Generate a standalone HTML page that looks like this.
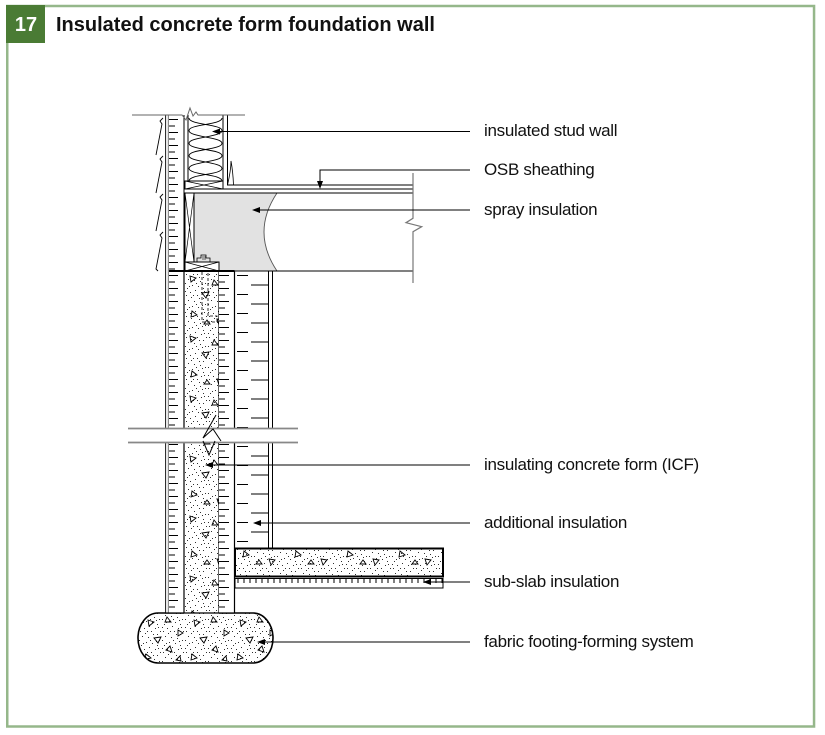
<!DOCTYPE html>
<html><head><meta charset="utf-8">
<style>
html,body{margin:0;padding:0;background:#fff;}
body{width:825px;height:735px;overflow:hidden;position:relative;}
svg{position:absolute;left:0;top:0;}
.lbl{font-family:"Liberation Sans",sans-serif;font-size:17px;letter-spacing:-0.3px;fill:#111;}
</style></head><body>
<svg width="825" height="735" viewBox="0 0 825 735" xmlns="http://www.w3.org/2000/svg">
<defs>
 <pattern id="dots" patternUnits="userSpaceOnUse" width="23" height="21">
  <g fill="#000">
  <rect x="2" y="1" width="0.9" height="0.9"/>
  <rect x="7" y="3" width="0.9" height="0.9"/>
  <rect x="13" y="1" width="0.9" height="0.9"/>
  <rect x="19" y="4" width="0.9" height="0.9"/>
  <rect x="4" y="6" width="0.9" height="0.9"/>
  <rect x="10" y="7" width="0.9" height="0.9"/>
  <rect x="16" y="8" width="0.9" height="0.9"/>
  <rect x="21" y="10" width="0.9" height="0.9"/>
  <rect x="1" y="10" width="0.9" height="0.9"/>
  <rect x="8" y="12" width="0.9" height="0.9"/>
  <rect x="14" y="13" width="0.9" height="0.9"/>
  <rect x="19" y="15" width="0.9" height="0.9"/>
  <rect x="3" y="15" width="0.9" height="0.9"/>
  <rect x="11" y="17" width="0.9" height="0.9"/>
  <rect x="17" y="19" width="0.9" height="0.9"/>
  <rect x="6" y="19" width="0.9" height="0.9"/>
  <rect x="22" y="1" width="0.9" height="0.9"/>
  <rect x="12" y="10" width="0.9" height="0.9"/>
  <rect x="5" y="13" width="0.9" height="0.9"/>
  <rect x="20" y="18" width="0.9" height="0.9"/>
  <rect x="9" y="1" width="0.9" height="0.9"/>
  <rect x="15" y="4" width="0.9" height="0.9"/>
  <rect x="1" y="18" width="0.9" height="0.9"/>
  <rect x="18" y="11" width="0.9" height="0.9"/>
  </g>
 </pattern>
 <pattern id="tri" patternUnits="userSpaceOnUse" x="184" y="271" width="52" height="60">
  <path d="M6,5 l6,2 l-5,4 z M30,9 l4,5 l-6,0 z M18,22 l7,-1 l-3,6 z M42,28 l2,6 l-6,-2 z M8,40 l5,4 l-6,2 z M33,48 l6,1 l-4,5 z M20,53 l3,-4 l3,4 z" fill="none" stroke="#000" stroke-width="0.9"/>
 </pattern>
 <pattern id="tri2" patternUnits="userSpaceOnUse" x="140" y="612" width="46" height="52">
  <path d="M8,8 l6,2 l-5,4 z M27,5 l4,5 l-6,0 z M38,18 l5,3 l-5,3 z M14,26 l7,-1 l-3,6 z M30,34 l2,6 l-6,-2 z M6,42 l5,4 l-6,2 z M40,44 l-4,4 l5,1 z" fill="none" stroke="#000" stroke-width="0.9"/>
 </pattern>
 <pattern id="tl" patternUnits="userSpaceOnUse" x="169" y="116" width="15" height="13">
  <path d="M0,3.5H9M0,10H6" stroke="#000" stroke-width="1" fill="none"/>
 </pattern>
 <pattern id="tr" patternUnits="userSpaceOnUse" x="219" y="272" width="15" height="13">
  <path d="M0,3.5H10M0,10H6" stroke="#000" stroke-width="1" fill="none"/>
 </pattern>
 <pattern id="ai" patternUnits="userSpaceOnUse" x="235" y="271" width="34" height="19">
  <path d="M2,4.5H13M16,14H33" stroke="#000" stroke-width="1" fill="none"/>
 </pattern>
 <pattern id="ss" patternUnits="userSpaceOnUse" x="235" y="578" width="6" height="10">
  <path d="M3,0V5" stroke="#000" stroke-width="1" fill="none"/>
 </pattern>
</defs>

<!-- frame -->
<rect x="7.25" y="6" width="806.8" height="720.5" fill="none" stroke="#95b78a" stroke-width="2.5"/>
<rect x="6" y="5" width="39" height="38" fill="#4a7b34"/>
<text x="26" y="31" text-anchor="middle" font-family="Liberation Sans,sans-serif" font-weight="bold" font-size="20" fill="#fff">17</text>
<text x="56" y="31" font-family="Liberation Sans,sans-serif" font-weight="bold" font-size="20" fill="#111">Insulated concrete form foundation wall</text>

<!-- spray insulation -->
<path d="M194,193 H277 Q251,232 277,271 H194 Z" fill="#e2e2e2"/>
<path d="M277,193 Q251,232 277,271" fill="none" stroke="#555" stroke-width="0.9"/>

<!-- concrete column + footing fill -->
<path d="M184,271 H219 V613 H253 A20,25 0 0 1 253,663 H158 A20,25 0 0 1 158,613 H184 Z" fill="#fff"/>
<path d="M184,271 H219 V613 H253 A20,25 0 0 1 253,663 H158 A20,25 0 0 1 158,613 H184 Z" fill="url(#dots)"/>
<rect x="184" y="271" width="35" height="342" fill="url(#tri)"/>
<path d="M219,613 H253 A20,25 0 0 1 253,663 H158 A20,25 0 0 1 158,613 H184 Z" fill="url(#tri2)"/>
<path d="M184,613 H158 A20,25 0 0 0 158,663 H253 A20,25 0 0 0 253,613 H219" fill="none" stroke="#000" stroke-width="1.6"/>

<!-- dashed anchor bolt -->
<path d="M202,272 V322 H217 V316 H208 V272" fill="none" stroke="#000" stroke-width="0.8" stroke-dasharray="3,2"/>

<!-- exterior double line -->
<rect x="165.5" y="115" width="3.5" height="498" fill="#e6e6e6" stroke="#000" stroke-width="0.8"/>
<!-- exterior panel -->
<rect x="169" y="115" width="15" height="498" fill="#fff"/>
<rect x="169" y="115" width="15" height="498" fill="url(#tl)"/>
<line x1="184" y1="115" x2="184" y2="613" stroke="#000" stroke-width="1"/>
<line x1="184" y1="271" x2="184" y2="613" stroke="#000" stroke-width="1.2"/>
<line x1="219" y1="271" x2="219" y2="613" stroke="#000" stroke-width="1.2"/>
<!-- interior ICF panel -->
<rect x="219" y="271" width="15" height="342" fill="#fff"/>
<rect x="219" y="271" width="15" height="342" fill="url(#tr)"/>
<line x1="234.5" y1="271" x2="234.5" y2="613" stroke="#000" stroke-width="1.2"/>
<line x1="165" y1="613" x2="234.5" y2="613" stroke="#000" stroke-width="1.2"/>

<!-- additional insulation -->
<rect x="235" y="271" width="33" height="277" fill="url(#ai)"/>
<line x1="268.5" y1="271" x2="268.5" y2="548" stroke="#000" stroke-width="1"/>
<line x1="272.5" y1="271" x2="272.5" y2="548" stroke="#000" stroke-width="1"/>

<!-- slab -->
<rect x="235" y="548.5" width="208" height="28" fill="#fff"/>
<rect x="235" y="548.5" width="208" height="28" fill="url(#dots)"/>
<rect x="235" y="548.5" width="208" height="28" fill="url(#tri)"/>
<rect x="235" y="548.5" width="208" height="28" fill="none" stroke="#000" stroke-width="2"/>
<!-- sub-slab insulation -->
<rect x="235" y="578.5" width="208" height="9.5" fill="url(#ss)" stroke="#000" stroke-width="1"/>

<!-- stud wall -->
<line x1="188" y1="115" x2="188" y2="181" stroke="#000" stroke-width="1"/>
<line x1="223" y1="115" x2="223" y2="181" stroke="#000" stroke-width="1"/>
<line x1="227.5" y1="115" x2="227.5" y2="185" stroke="#000" stroke-width="1"/>
<path d="M227.5,185 Q231,170 231,161 Q233,172 233.5,185" fill="none" stroke="#000" stroke-width="0.8"/>
<path d="M189,118 C189,125 222,124 222,130.6 C222,137 189,137 189,143.2 C189,150 222,149 222,155.8 C222,162 189,162 189,168.4 C189,175 222,174 222,181" fill="none" stroke="#000" stroke-width="0.9"/>
<path d="M222,118 C222,125 189,124 189,130.6 C189,137 222,137 222,143.2 C222,150 189,149 189,155.8 C189,162 222,162 222,168.4 C222,175 189,174 189,181" fill="none" stroke="#000" stroke-width="0.9"/>
<!-- top plate -->
<rect x="185" y="181" width="38" height="8" fill="#fff" stroke="#000" stroke-width="1"/>
<path d="M185,181 L223,189 M223,181 L185,189" stroke="#000" stroke-width="0.7"/>

<!-- subfloor lines -->
<line x1="227" y1="185" x2="413" y2="185" stroke="#000" stroke-width="1"/>
<line x1="184" y1="189" x2="413" y2="189" stroke="#000" stroke-width="1"/>
<line x1="184" y1="193" x2="413" y2="193" stroke="#000" stroke-width="1"/>
<line x1="234" y1="271" x2="413" y2="271" stroke="#000" stroke-width="1"/>
<path d="M413,173 V218.3 L406,222.7 L421.7,226.7 L413,231.7 V283" fill="none" stroke="#777" stroke-width="1.2"/>

<!-- rim joist -->
<rect x="185" y="193" width="9" height="69" fill="#fff" stroke="#000" stroke-width="1"/>
<path d="M185,193 L194,262 M194,193 L185,262" stroke="#000" stroke-width="0.7"/>
<!-- sill plate -->
<rect x="185" y="262" width="34" height="9" fill="#fff" stroke="#000" stroke-width="1"/>
<path d="M185,262 L219,271 M219,262 L185,271" stroke="#000" stroke-width="0.7"/>
<path d="M197,262 V258 H201 V255 H206 V258 H210 V262" fill="none" stroke="#000" stroke-width="0.8"/>
<path d="M203,256 V260 M205,256 V260" stroke="#000" stroke-width="0.6"/>
<!-- ICF top -->
<line x1="169" y1="271" x2="234.5" y2="271" stroke="#000" stroke-width="2"/>

<!-- siding -->
<path d="M163,118 L160,121 L162,124 L156,155 M163,156 L160,159 L162,162 L156,193 M163,194 L160,197 L162,200 L156,231 M163,232 L160,235 L162,238 L156,269 L158,271" fill="none" stroke="#000" stroke-width="0.9"/>

<!-- top cut line -->
<path d="M132,115 H182 L186,120 L190,108 L193,116 L196,112 L198,115 H245" fill="none" stroke="#666" stroke-width="1"/>

<!-- break -->
<rect x="128" y="429" width="170" height="13" fill="#fff"/>
<line x1="128" y1="428.5" x2="298" y2="428.5" stroke="#888" stroke-width="1.8"/>
<line x1="128" y1="442.5" x2="298" y2="442.5" stroke="#888" stroke-width="1.8"/>
<path d="M216,415 L203,438 L213,429 L221,441" fill="none" stroke="#000" stroke-width="1"/>
<path d="M203,441 L209,455 L215,441" fill="none" stroke="#000" stroke-width="1"/>

<!-- leaders -->
<g stroke="#000" stroke-width="1" fill="none">
 <path d="M214,131.5 H470"/>
 <path d="M470,170 H320 V182"/>
 <path d="M254,210 H470"/>
 <path d="M207,465 H470"/>
 <path d="M255,523 H470"/>
 <path d="M425,582 H470"/>
 <path d="M259,642 H470"/>
</g>
<g fill="#000">
 <polygon points="212,131.5 220,128.5 220,134.5"/>
 <polygon points="320,189 317,181 323,181"/>
 <polygon points="252,210 260,207 260,213"/>
 <polygon points="205,465 213,462 213,468"/>
 <polygon points="253,523 261,520 261,526"/>
 <polygon points="423,582 431,579 431,585"/>
 <polygon points="257,642 265,639 265,645"/>
</g>

<!-- labels -->
<text class="lbl" x="484" y="136">insulated stud wall</text>
<text class="lbl" x="484" y="175">OSB sheathing</text>
<text class="lbl" x="484" y="215">spray insulation</text>
<text class="lbl" x="484" y="470">insulating concrete form (ICF)</text>
<text class="lbl" x="484" y="528">additional insulation</text>
<text class="lbl" x="484" y="587">sub-slab insulation</text>
<text class="lbl" x="484" y="647">fabric footing-forming system</text>
</svg>
</body></html>
